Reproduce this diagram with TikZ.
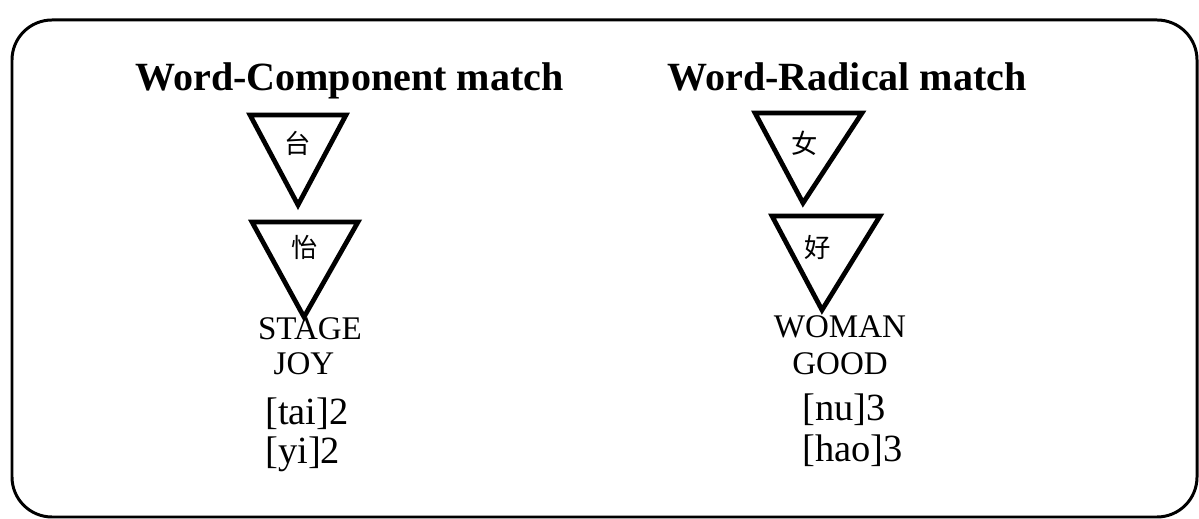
\documentclass[tikz,border=0pt]{standalone}
\usepackage{fontspec}
\setmainfont{Liberation Serif}
\newfontfamily\cjk{Noto Sans CJK SC}
\begin{document}
\begin{tikzpicture}[x=0.02cm,y=-0.02cm,
    tri/.style={line width=2.7pt,line join=miter},
    head/.style={font=\bfseries\fontsize{22.8}{26}\selectfont,anchor=base west,inner sep=0},
    gloss/.style={font=\fontsize{18.8}{22}\selectfont,anchor=base,inner sep=0},
    sound/.style={font=\fontsize{21.9}{25}\selectfont,anchor=base west,inner sep=0},
    hanzi/.style={font=\cjk\fontsize{15}{17}\selectfont,inner sep=0}]
  \useasboundingbox (0,0) rectangle (1199,519);
  \draw [line width=1.7pt,rounded corners=0.8cm] (12,20) rectangle (1197,517);
  % two headings
  \node [head] (hcomp) at (135,91) {Word-Component match};
  \node [head] (hrad) at (667,91) {Word-Radical match};
  % component stack
  \draw [tri] (250,115) -- (346,115) -- (298,205) -- cycle;
  \draw [tri] (252,222) -- (358,222) -- (304,317) -- cycle;
  \node [hanzi] (tai) at (298,143) {台};
  \node [hanzi] (yi) at (305,247) {怡};
  \node [gloss] (stage) at (310,340) {STAGE};
  \node [gloss] (joy) at (304,375) {JOY};
  \node [sound] (taip) at (265,425) {[tai]2};
  \node [sound] (yip) at (265,464) {[yi]2};
  % radical stack
  \draw [tri] (755,113) -- (862,113) -- (803,203) -- cycle;
  \draw [tri] (772,216) -- (880,216) -- (822,310) -- cycle;
  \node [hanzi] (nu) at (805,143) {女};
  \node [hanzi] (hao) at (818,248) {好};
  \node [gloss] (woman) at (840,338) {WOMAN};
  \node [gloss] (good) at (840,375) {GOOD};
  \node [sound] (nup) at (802,421) {[nu]3};
  \node [sound] (haop) at (802,462) {[hao]3};
\end{tikzpicture}
\end{document}
